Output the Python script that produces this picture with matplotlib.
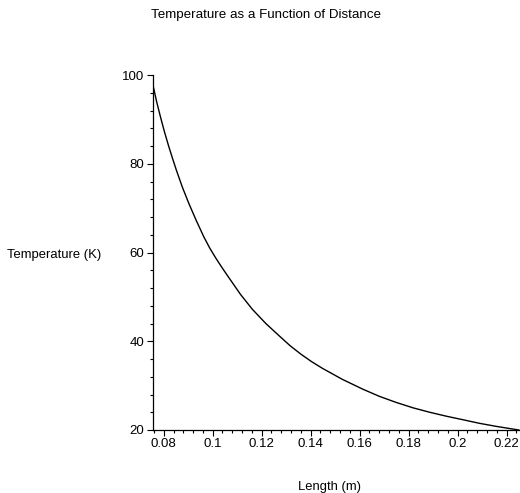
import matplotlib
matplotlib.use("Agg")
import matplotlib.pyplot as plt
from matplotlib.ticker import MultipleLocator, FixedLocator

plt.rcParams['font.family'] = ['Liberation Sans', 'DejaVu Sans']

length_m = [0.0755, 0.0771, 0.0787, 0.0803, 0.0820, 0.0836, 0.0852, 0.0877,
            0.0903, 0.0933, 0.0964, 0.0988, 0.1012, 0.1038, 0.1064, 0.1113,
            0.1162, 0.1217, 0.1272, 0.1316, 0.1360, 0.1404, 0.1448, 0.1530,
            0.1613, 0.1680, 0.1750, 0.1818, 0.1886, 0.1955, 0.2023, 0.2090,
            0.2160, 0.2205, 0.2250]
temperature_k = [98.0, 94.0, 90.5, 87.2, 84.0, 81.2, 78.5, 74.6,
                 71.0, 67.2, 63.5, 61.0, 58.8, 56.6, 54.5, 50.6,
                 47.2, 44.0, 41.2, 39.0, 37.1, 35.4, 33.9, 31.4,
                 29.2, 27.6, 26.2, 25.0, 24.0, 23.1, 22.3, 21.5,
                 20.8, 20.4, 20.0]
x_ticks = [0.08, 0.10, 0.12, 0.14, 0.16, 0.18, 0.20, 0.22]
x_tick_labels = ["0.08", "0.1", "0.12", "0.14", "0.16", "0.18", "0.2", "0.22"]
y_ticks = [20, 40, 60, 80, 100]

W, H = 520, 493
fig = plt.figure(figsize=(W / 100, H / 100), dpi=100)
left, right, top, bottom = 152.7, 520, 75, 430
ax = fig.add_axes([left / W, (H - bottom) / H, (right - left) / W, (bottom - top) / H])

ax.plot(length_m, temperature_k, color='black', lw=1.0)
ax.set_xlim(0.0755, 0.2255)
ax.set_ylim(20, 100)

for s in ['top', 'right']:
    ax.spines[s].set_visible(False)
for s in ['left', 'bottom']:
    ax.spines[s].set_linewidth(0.9)

ax.xaxis.set_major_locator(FixedLocator(x_ticks))
ax.set_xticklabels(x_tick_labels)
ax.xaxis.set_minor_locator(MultipleLocator(0.004))
ax.yaxis.set_major_locator(FixedLocator(y_ticks))
ax.yaxis.set_minor_locator(MultipleLocator(4))
ax.tick_params(which='major', direction='out', length=4, width=0.8, labelsize=9.5, pad=2)
ax.tick_params(which='minor', direction='out', length=2, width=0.8)

fig.text(266 / W, 1 - 15 / H, "Temperature as a Function of Distance", ha='center', va='center', fontsize=9.6)
fig.text(54 / W, 1 - 255 / H, "Temperature (K)", ha='center', va='center', fontsize=9.4)
fig.text(330 / W, 1 - 487 / H, "Length (m)", ha='center', va='center', fontsize=9.4)

fig.savefig("out.png", dpi=100)
